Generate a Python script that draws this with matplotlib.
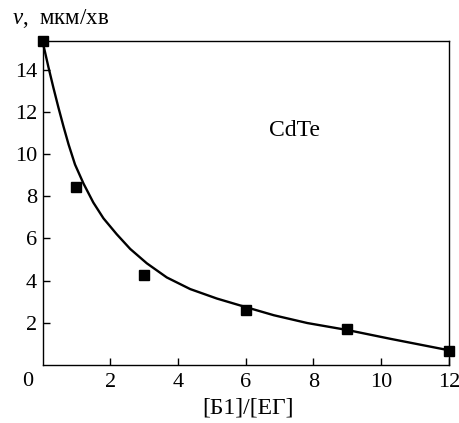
import matplotlib
matplotlib.use("Agg")
import matplotlib.pyplot as plt

# measured points
x_pts = [0.0, 1.0, 3.0, 6.0, 9.0, 12.0]
y_pts = [15.35, 8.45, 4.27, 2.6, 1.7, 0.68]

# fitted curve
x_curve = [0.0, 0.17, 0.32, 0.47, 0.62, 0.77, 0.96, 1.21, 1.5, 1.8, 2.19, 2.59,
           3.08, 3.67, 4.36, 5.15, 5.95, 6.83, 7.82, 9.0, 10.28, 12.0]
y_curve = [15.35, 14.15, 13.15, 12.2, 11.3, 10.45, 9.5, 8.6, 7.7, 6.95, 6.2, 5.5,
           4.82, 4.15, 3.6, 3.15, 2.77, 2.36, 1.99, 1.66, 1.24, 0.70]

x_ticks = [2, 4, 6, 8, 10, 12]
y_ticks = [2, 4, 6, 8, 10, 12, 14]

plt.rcParams['font.family'] = ['Liberation Serif', 'DejaVu Serif']
plt.rcParams['mathtext.fontset'] = 'custom'
plt.rcParams['mathtext.it'] = 'Liberation Serif:italic'
plt.rcParams['mathtext.rm'] = 'Liberation Serif'

fig = plt.figure(figsize=(4.59, 4.23), dpi=100)
ax = fig.add_axes([0.0926, 0.137, 0.978 - 0.0926, 0.903 - 0.137])

ax.plot(x_curve, y_curve, color='black', lw=1.7, clip_on=False, zorder=2,
        solid_joinstyle='round')
ax.plot(x_pts, y_pts, 's', color='black', ms=7, clip_on=False, zorder=3)

ax.set_xlim(0, 12)
ax.set_ylim(0, 15.35)
ax.set_xticks(x_ticks)
ax.set_yticks(y_ticks)
ax.tick_params(direction='in', length=5, width=1, labelsize=16, pad=6)
ax.tick_params(axis='y', pad=4)
for s in ax.spines.values():
    s.set_linewidth(1.0)

ax.text(-0.023, -0.05, '0', transform=ax.transAxes, fontsize=16, ha='right', va='center')
ax.text(7.44, 11.1, 'CdTe', fontsize=17, ha='center', va='center')

fig.text(12 / 459, 1 - 19 / 423, r'$v$,  мкм/хв', fontsize=16.5, ha='left', va='center')
fig.text(248 / 459, 1 - 408 / 423, '[Б1]/[ЕГ]', fontsize=17, ha='center', va='center')

fig.savefig('out.png', dpi=100)
